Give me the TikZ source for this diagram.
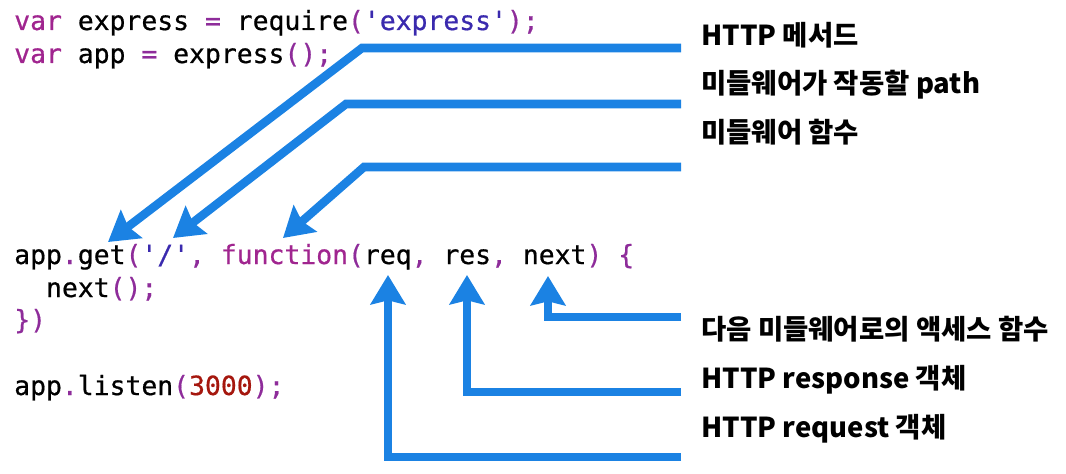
\documentclass[tikz,border=0pt]{standalone}
\usepackage{fontspec}
\setmonofont{DejaVu Sans Mono}[FakeBold=0.6]
\newfontfamily\kr{Noto Sans CJK KR}
\usetikzlibrary{arrows.meta}
\definecolor{kw}{HTML}{A0258F}
\definecolor{pn}{HTML}{8E2C9A}
\definecolor{st}{HTML}{3A2AAE}
\definecolor{nm}{HTML}{A5170E}
\definecolor{arr}{HTML}{1B82E3}
\newcommand{\ckw}[1]{\textcolor{kw}{#1}}
\newcommand{\cpn}[1]{\textcolor{pn}{#1}}
\newcommand{\cst}[1]{\textcolor{st}{#1}}
\newcommand{\cnm}[1]{\textcolor{nm}{#1}}
\frenchspacing
\begin{document}
\begin{tikzpicture}[x=0.75pt,y=-0.75pt,
  code/.style={anchor=base west,inner sep=0pt,font=\ttfamily\fontsize{19.8pt}{24pt}\selectfont},
  lbl/.style={anchor=base west,inner sep=0pt,font=\kr\bfseries\fontsize{20.6pt}{24pt}\selectfont},
  conn/.style={draw=arr,line width=6.4pt,line join=miter,-{Stealth[length=22pt,width=26pt,inset=3pt]}}]
\useasboundingbox (0,0) rectangle (1066,474);
% code
\node[code] (c1) at (14,30) {\ckw{var} express \cpn{=} require\cpn{(}\cst{'express'}\cpn{);}};
\node[code] (c2) at (14,63) {\ckw{var} app \cpn{=} express\cpn{();}};
\node[code] (c3) at (14,264) {app\cpn{.}get\cpn{(}\cst{'/'}\cpn{,} \ckw{function}\cpn{(}req\cpn{,} res\cpn{,} next\cpn{)} \cpn{\{}};
\node[code] (c4) at (45.8,297) {next\cpn{();}};
\node[code] (c5) at (14,329) {\cpn{\})}};
\node[code] (c6) at (14,395) {app\cpn{.}listen\cpn{(}\cnm{3000}\cpn{);}};
% labels
\node[lbl] (l1) at (701,45.5) {HTTP 메서드};
\node[lbl] (l2) at (701,94) {미들웨어가 작동할 path};
\node[lbl] (l3) at (701,142.5) {미들웨어 함수};
\node[lbl] (l4) at (701,339.5) {다음 미들웨어로의 액세스 함수};
\node[lbl] (l5) at (701,388.5) {HTTP response 객체};
\node[lbl] (l6) at (701,437.5) {HTTP request 객체};
% connector ends
\coordinate (s1) at (681,48);   \coordinate (k1) at (362,48);  \coordinate (t1) at (108,242);
\coordinate (s2) at (681,104);  \coordinate (k2) at (346,104); \coordinate (t2) at (173,238);
\coordinate (s3) at (681,167);  \coordinate (k3) at (364,167); \coordinate (t3) at (283,238);
\coordinate (s4) at (681,317);  \coordinate (k4) at (548,317); \coordinate (t4) at (548,276);
\coordinate (s5) at (681,392);  \coordinate (k5) at (467,392); \coordinate (t5) at (467,275);
\coordinate (s6) at (681,457);  \coordinate (k6) at (388,457); \coordinate (t6) at (388,275);
\draw[conn] (s1) -- (k1) -- (t1);
\draw[conn] (s2) -- (k2) -- (t2);
\draw[conn] (s3) -- (k3) -- (t3);
\draw[conn] (s4) -- (k4) -- (t4);
\draw[conn] (s5) -- (k5) -- (t5);
\draw[conn] (s6) -- (k6) -- (t6);
\end{tikzpicture}
\end{document}
